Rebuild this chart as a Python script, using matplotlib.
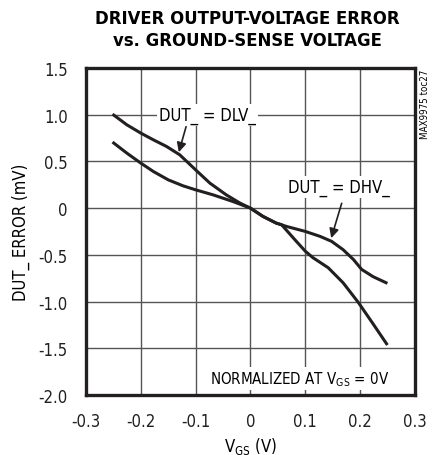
import matplotlib
matplotlib.use("Agg")
import matplotlib.pyplot as plt

plt.rcParams['font.family'] = ['DejaVu Sans']
plt.rcParams['font.stretch'] = 'condensed'

# data
vgs_dlv = [-0.2516, -0.2255, -0.2, -0.177, -0.153, -0.129, -0.1, -0.074, -0.044, -0.019, 0.0,
           0.023, 0.047, 0.057, 0.081, 0.1, 0.114, 0.142, 0.169, 0.197, 0.224, 0.25]
err_dlv = [1.006, 0.892, 0.803, 0.731, 0.66, 0.571, 0.41, 0.268, 0.142, 0.054, 0.0,
           -0.089, -0.16, -0.178, -0.337, -0.46, -0.53, -0.638, -0.798, -1.01, -1.24, -1.465]
vgs_dhv = [-0.2516, -0.2255, -0.2, -0.177, -0.15, -0.123, -0.1, -0.068, -0.032, 0.0,
           0.023, 0.047, 0.066, 0.1, 0.127, 0.148, 0.169, 0.188, 0.203, 0.224, 0.25]
err_dhv = [0.707, 0.589, 0.482, 0.392, 0.303, 0.239, 0.196, 0.142, 0.071, 0.0,
           -0.089, -0.16, -0.196, -0.249, -0.302, -0.355, -0.444, -0.55, -0.656, -0.734, -0.805]

xticks = [-0.3, -0.2, -0.1, 0, 0.1, 0.2, 0.3]
xticklabels = ['-0.3', '-0.2', '-0.1', '0', '0.1', '0.2', '0.3']
yticks = [1.5, 1.0, 0.5, 0, -0.5, -1.0, -1.5, -2.0]
yticklabels = ['1.5', '1.0', '0.5', '0', '-0.5', '-1.0', '-1.5', '-2.0']

fig = plt.figure(figsize=(4.33, 4.56), dpi=100)
ax = fig.add_axes([0.1986, 0.1316, 0.7594, 0.7171])

ax.plot(vgs_dlv, err_dlv, color='#231f20', lw=2.2, zorder=3, solid_capstyle='butt')
ax.plot(vgs_dhv, err_dhv, color='#231f20', lw=2.2, zorder=3, solid_capstyle='butt')

ax.set_xlim(-0.3, 0.3)
ax.set_ylim(-2.0, 1.5)
ax.set_xticks(xticks)
ax.set_xticklabels(xticklabels)
ax.set_yticks(yticks)
ax.set_yticklabels(yticklabels)
ax.tick_params(length=0, labelsize=12, colors='#231f20')
ax.tick_params(axis='y', pad=13)
ax.tick_params(axis='x', pad=12)
ax.grid(True, color='#555555', lw=1.0)
for s in ax.spines.values():
    s.set_linewidth(2.4)
    s.set_color('#231f20')

ax.set_xlabel('V$_{\\mathregular{GS}}$ (V)', fontsize=12, labelpad=4)
ax.set_ylabel('DUT_ ERROR (mV)', fontsize=12, labelpad=6)

box = dict(facecolor='white', edgecolor='none', pad=1.5)
ax.text(-0.079, 1.0, 'DUT_ = DLV_', fontsize=12, ha='center', va='center', bbox=box, zorder=4)
ax.annotate('', xy=(-0.132, 0.57), xytext=(-0.116, 0.9),
            arrowprops=dict(arrowstyle='-|>', color='#231f20', lw=1.2, mutation_scale=14), zorder=4)
ax.text(0.162, 0.225, 'DUT_ = DHV_', fontsize=12, ha='center', va='center', bbox=box, zorder=4)
ax.annotate('', xy=(0.146, -0.35), xytext=(0.168, 0.08),
            arrowprops=dict(arrowstyle='-|>', color='#231f20', lw=1.2, mutation_scale=14), zorder=4)
ax.text(0.253, -1.82, 'NORMALIZED AT V$_{\\mathregular{GS}}$ = 0V', fontsize=10.8, ha='right', va='center',
        bbox=box, zorder=4)

fig.text(0.5715, 0.958, 'DRIVER OUTPUT-VOLTAGE ERROR', fontsize=13.2, fontweight='bold',
         ha='center', va='center')
fig.text(0.5715, 0.91, 'vs. GROUND-SENSE VOLTAGE', fontsize=13.2, fontweight='bold',
         ha='center', va='center')
fig.text(0.982, 0.848, 'MAX9975 toc27', fontsize=7, rotation=90, ha='center', va='top')

fig.savefig('out.png', dpi=100)
